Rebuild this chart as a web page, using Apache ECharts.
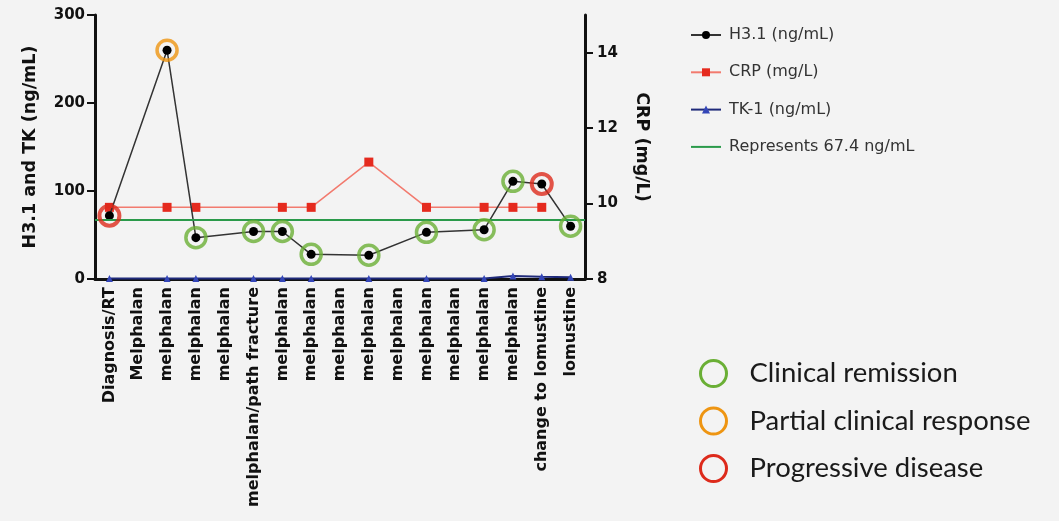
<!DOCTYPE html>
<html>
<head>
<meta charset="utf-8">
<script src="https://cdn.jsdelivr.net/npm/echarts@6/dist/echarts.min.js"></script>
<style>
html,body{margin:0;padding:0;background:#f3f3f3;}
#c{width:1059px;height:521px;}
</style>
</head>
<body>
<div id="c"></div>
<script>
const categories = ['Diagnosis/RT','Melphalan','melphalan','melphalan','melphalan','melphalan/path fracture','melphalan','melphalan','melphalan','melphalan','melphalan','melphalan','melphalan','melphalan','melphalan','change to lomustine','lomustine'];
const h31 = [72, null, 260, 47, null, 54, 54, 28, null, 27, null, 53, null, 56, 111, 108, 60];
const crp = [9.9, null, 9.9, 9.9, null, null, 9.9, 9.9, null, 11.1, null, 9.9, null, 9.9, 9.9, 9.9, null];
const tk1 = [0.5, null, 0.5, 0.5, null, 0.5, 0.5, 0.5, null, 0.5, null, 0.5, null, 0.5, 3.5, 2.5, 2];
const status = ['PD', null, 'PR', 'CR', null, 'CR', 'CR', 'CR', null, 'CR', null, 'CR', null, 'CR', 'CR', 'PD', 'CR'];
const refValue = 67.4;
const leftTicks = [0, 100, 200, 300];
const rightTicks = [8, 10, 12, 14];
const statusLabels = {CR: 'Clinical remission', PR: 'Partial clinical response', PD: 'Progressive disease'};
const statusColors = {CR: '#6aaf35', PR: '#ee9512', PD: '#dd2a1b'};

const chart = echarts.init(document.getElementById('c'), null, {renderer: 'canvas'});

function ringData(code) {
  const out = [];
  status.forEach((s, i) => { if (s === code && h31[i] != null) out.push([i, h31[i]]); });
  return out;
}

const axisFont = {fontFamily: 'DejaVu Sans', fontWeight: 'bold', fontSize: 15, color: '#111'};

const option = {
  backgroundColor: '#f3f3f3',
  animation: false,
  grid: {left: 95, right: 474, top: 15, bottom: 242},
  legend: {
    orient: 'vertical',
    left: 685, top: 22,
    itemWidth: 30, itemHeight: 10, itemGap: 21.3,
    data: ['H3.1 (ng/mL)', 'CRP (mg/L)', 'TK-1 (ng/mL)',
      {name: 'Represents 67.4 ng/mL', itemStyle: {opacity: 0}}],
    textStyle: {fontFamily: 'DejaVu Sans', fontSize: 16, color: '#333', padding: [0, 0, 0, 3]}
  },
  xAxis: {
    type: 'category', data: categories, boundaryGap: true,
    axisLine: {lineStyle: {color: '#111', width: 3}},
    axisTick: {alignWithLabel: true, length: 8, lineStyle: {color: '#111', width: 2}},
    axisLabel: Object.assign({rotate: 90, interval: 0, margin: 8}, axisFont, {fontSize: 16})
  },
  yAxis: [
    {
      type: 'value', min: leftTicks[0], max: leftTicks[leftTicks.length - 1], interval: 100, position: 'left',
      name: 'H3.1 and TK (ng/mL)', nameLocation: 'middle', nameRotate: 90, nameGap: 56,
      nameTextStyle: {fontFamily: 'DejaVu Sans', fontWeight: 'bold', fontSize: 17.5, color: '#111'},
      axisLine: {show: true, lineStyle: {color: '#111', width: 3}},
      axisTick: {show: true, length: 8, lineStyle: {color: '#111', width: 2}},
      axisLabel: Object.assign({margin: 10}, axisFont),
      splitLine: {show: false}
    },
    {
      type: 'value', min: 8, max: 15, interval: 2, position: 'right',
      name: 'CRP (mg/L)', nameLocation: 'middle', nameRotate: -90, nameGap: 48,
      nameTextStyle: {fontFamily: 'DejaVu Sans', fontWeight: 'bold', fontSize: 17.5, color: '#111'},
      axisLine: {show: true, lineStyle: {color: '#111', width: 3}},
      axisTick: {show: true, length: 8, lineStyle: {color: '#111', width: 2}, customValues: rightTicks},
      axisLabel: Object.assign({margin: 12, customValues: rightTicks}, axisFont),
      splitLine: {show: false}
    }
  ],
  series: [
    {
      name: 'Represents 67.4 ng/mL', type: 'line', data: [], yAxisIndex: 0, symbol: 'none',
      color: '#2a9a4a', lineStyle: {color: '#2a9a4a', width: 2},
      markLine: {silent: true, symbol: 'none', label: {show: false},
        lineStyle: {color: '#2a9a4a', width: 2, type: 'solid'}, data: [{yAxis: refValue}]},
      z: 1
    },
    {
      name: 'CRP (mg/L)', type: 'line', data: crp, yAxisIndex: 1, connectNulls: true,
      symbol: 'rect', symbolSize: 9, color: '#e52a1e',
      itemStyle: {color: '#e52a1e'}, lineStyle: {color: '#f27a6e', width: 1.5}, z: 2
    },
    {
      name: 'TK-1 (ng/mL)', type: 'line', data: tk1, yAxisIndex: 0, connectNulls: true,
      symbol: 'triangle', symbolSize: 7, color: '#3446b8',
      itemStyle: {color: '#3446b8'}, lineStyle: {color: '#1f2a7a', width: 2}, z: 3
    },
    {
      name: 'H3.1 (ng/mL)', type: 'line', data: h31, yAxisIndex: 0, connectNulls: true,
      symbol: 'circle', symbolSize: 9, color: '#000',
      itemStyle: {color: '#000'}, lineStyle: {color: '#333', width: 1.5}, z: 4
    },
    ...['CR', 'PR', 'PD'].map(code => ({
      name: statusLabels[code], type: 'scatter', yAxisIndex: 0, data: ringData(code),
      symbol: 'circle', symbolSize: 20,
      itemStyle: {color: 'rgba(0,0,0,0)', borderColor: statusColors[code], borderWidth: code === 'PD' ? 4 : 3.5},
      z: 5, silent: true
    }))
  ],
  graphic: ['CR', 'PR', 'PD'].map((code, i) => ({
    type: 'group', left: 698, top: 358 + i * 47.5,
    children: [
      {type: 'circle', shape: {cx: 15, cy: 15, r: 13}, style: {fill: 'none', stroke: statusColors[code], lineWidth: 3}},
      {type: 'text', x: 51, y: 15, style: {text: statusLabels[code], fontFamily: 'Lato', fontSize: 27.5, fill: '#1a1a1a', textVerticalAlign: 'middle'}}
    ]
  }))
};
chart.setOption(option);
</script>
</body>
</html>
